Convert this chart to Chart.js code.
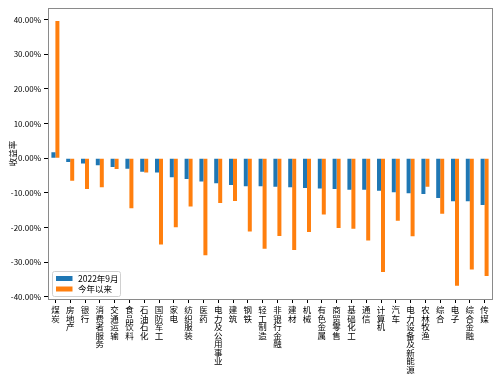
<!DOCTYPE html>
<html>
<head>
<meta charset="utf-8">
<script src="https://cdn.jsdelivr.net/npm/chart.js@4.4.0/dist/chart.umd.min.js"></script>
<style>
  html, body { margin: 0; padding: 0; background: #fff; }
  #wrap { width: 500px; height: 379px; position: relative; }
</style>
</head>
<body>
<div id="wrap"><canvas id="c" width="500" height="379"></canvas></div>
<script>
const categories = ["煤炭","房地产","银行","消费者服务","交通运输","食品饮料","石油石化","国防军工","家电","纺织服装","医药","电力及公用事业","建筑","钢铁","轻工制造","非银行金融","建材","机械","有色金属","商贸零售","基础化工","通信","计算机","汽车","电力设备及新能源","农林牧渔","综合","电子","综合金融","传媒"];
const seriesNames = ["2022年9月", "今年以来"];
const sep2022 = [1.7,-1.05,-1.5,-2.0,-2.5,-3.0,-3.9,-4.1,-5.5,-6.0,-6.7,-7.2,-7.7,-8.1,-8.1,-8.2,-8.4,-8.6,-8.7,-8.9,-9.1,-9.1,-9.4,-9.8,-10.1,-10.3,-11.5,-12.4,-12.4,-13.5];
const ytd = [39.6,-6.5,-8.9,-8.4,-3.1,-14.4,-4.1,-24.9,-19.9,-13.9,-28.0,-12.9,-12.3,-21.1,-26.1,-22.4,-26.5,-21.3,-16.2,-20.1,-20.3,-23.7,-32.8,-18.0,-22.5,-8.2,-16.0,-36.8,-32.1,-34.0];
const yTicks = [-40,-30,-20,-10,0,10,20,30,40];
const yTitle = "收益率";

const FONT = "'Noto Sans CJK SC', 'DejaVu Sans', sans-serif";

const framePlugin = {
  id: 'frame',
  afterDraw(chart) {
    const {ctx, chartArea: a} = chart;
    ctx.save();
    ctx.strokeStyle = '#8a8a8a';
    ctx.lineWidth = 1;
    ctx.strokeRect(Math.round(a.left) + 0.5, Math.round(a.top) + 0.5, Math.round(a.right - a.left), Math.round(a.bottom - a.top));
    // legend
    const x0 = a.left + 4, y0 = a.bottom - 28, w = 68, h = 25;
    ctx.fillStyle = 'rgba(255,255,255,0.8)';
    ctx.strokeStyle = '#d0d0d0';
    ctx.lineWidth = 1;
    ctx.beginPath();
    if (ctx.roundRect) ctx.roundRect(x0 + 0.5, y0 + 0.5, w, h, 2); else ctx.rect(x0 + 0.5, y0 + 0.5, w, h);
    ctx.fill(); ctx.stroke();
    ctx.font = '8.5px ' + FONT;
    ctx.textBaseline = 'middle';
    chart.data.datasets.forEach((ds, i) => {
      const cy = y0 + 7.5 + i * 10.5;
      ctx.fillStyle = ds.backgroundColor;
      ctx.fillRect(x0 + 4, cy - 2.5, 16.5, 5);
      ctx.fillStyle = '#000';
      ctx.fillText(ds.label, x0 + 26, cy);
    });
    ctx.restore();
  }
};

new Chart(document.getElementById('c'), {
  type: 'bar',
  data: {
    labels: categories.map(s => Array.from(s)),
    datasets: [
      { label: seriesNames[0], data: sep2022, backgroundColor: '#1f77b4', categoryPercentage: 0.54, barPercentage: 1.0 },
      { label: seriesNames[1], data: ytd, backgroundColor: '#ff7f0e', categoryPercentage: 0.54, barPercentage: 1.0 }
    ]
  },
  options: {
    responsive: false,
    animation: false,
    devicePixelRatio: 1,
    layout: { padding: { left: 0, right: 8, top: 7, bottom: 0 } },
    plugins: { legend: { display: false }, tooltip: { enabled: false } },
    scales: {
      x: {
        offset: true,
        grid: { display: true, drawOnChartArea: false, tickLength: 4, color: '#000', offset: false },
        border: { display: false },
        ticks: { autoSkip: false, maxRotation: 0, minRotation: 0, padding: 3, color: '#000',
                 font: { family: FONT, size: 8.5, lineHeight: 1.0 } },
        afterFit(s) { s.height = 80; }
      },
      y: {
        min: -40.6, max: 43.4,
        afterBuildTicks(s) { s.ticks = yTicks.map(v => ({ value: v })); },
        grid: { display: true, drawOnChartArea: false, tickLength: 4, color: '#000' },
        border: { display: false },
        ticks: { padding: 3, color: '#000', font: { family: FONT, size: 8 },
                 callback: v => v.toFixed(2) + '%' },
        title: { display: true, text: yTitle, color: '#000', font: { family: FONT, size: 8.5 }, padding: { top: 8, bottom: 0 } },
        afterFit(s) { s.width = 48; }
      }
    }
  },
  plugins: [framePlugin]
});
</script>
</body>
</html>
